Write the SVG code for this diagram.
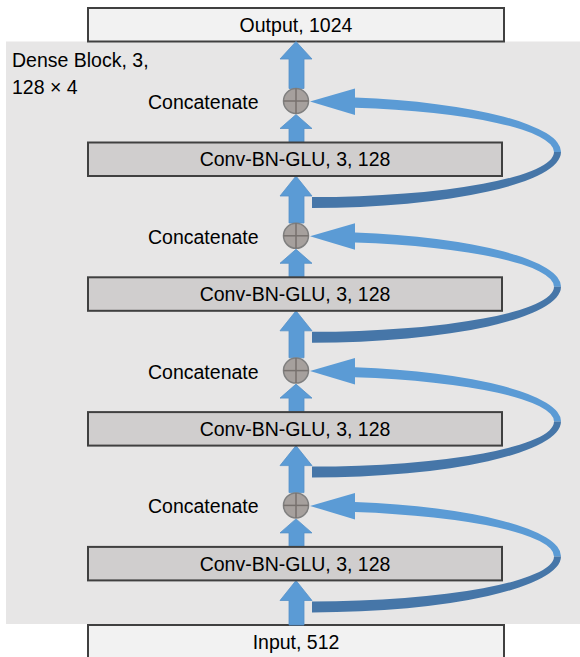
<svg xmlns="http://www.w3.org/2000/svg" width="580" height="657" viewBox="0 0 580 657">
<style>
.box{stroke:#404040;stroke-width:2}
.io{fill:#f2f2f2}
.conv{fill:#d0cece}
.t{font-family:"Liberation Sans",Arial,sans-serif;font-size:19.5px;fill:#000}
.c{text-anchor:middle}
.arr{fill:#5b9bd5;stroke:#5590c8;stroke-width:0.8}
.up{fill:#5b9bd5}
.low{fill:#4676a8}
.cat{fill:#a6a09d;stroke:#7f7f7f;stroke-width:1.5}
.cross{stroke:#77716e;stroke-width:1.5}
</style>
<defs>
<g id="catSym">
<circle class="cat" cx="0" cy="0" r="12.5"/>
<line class="cross" x1="-12.5" y1="0" x2="12.5" y2="0"/>
<line class="cross" x1="0" y1="-12.5" x2="0" y2="12.5"/>
</g>
<g id="loop">
<path class="up" d="M355,-3.4 A249,55 0 0 1 561,51 L554,51 A242,45 0 0 0 355,6.7 Z"/>
<path class="low" d="M561,51 A249,56 0 0 1 312,107 L312,96 A242,45 0 0 0 554,51 Z"/>
<polygon class="up" points="310,0.5 355,-12.5 355,14"/>
</g>
</defs>

<rect id="panel" x="6" y="41.5" width="574" height="582.5" fill="#e7e6e6"/>

<g id="output">
<rect class="box io" x="88" y="8" width="416" height="33.5"/>
<text class="t c" x="296" y="32">Output, 1024</text>
</g>
<g id="input">
<rect class="box io" x="88" y="625" width="416" height="40"/>
<text class="t c" x="296" y="648.5">Input, 512</text>
</g>

<g id="label">
<text class="t" x="12" y="67">Dense Block, 3,</text>
<text class="t" x="12" y="94">128 × 4</text>
</g>

<g id="connectors">
<polygon class="arr" points="296,41.5 312,59 304,59 304,88.5 289,88.5 289,59 280,59"/>
<polygon class="arr" points="296,114.5 312,128.5 304,128.5 304,142.5 289,142.5 289,128.5 280,128.5"/>
<polygon class="arr" points="296,176 312,196 304,196 304,223 289,223 289,196 280,196"/>
<polygon class="arr" points="296,249.3 312,263.3 304,263.3 304,277.3 289,277.3 289,263.3 280,263.3"/>
<polygon class="arr" points="296,310.8 312,330.8 304,330.8 304,357.8 289,357.8 289,330.8 280,330.8"/>
<polygon class="arr" points="296,384.1 312,398.1 304,398.1 304,412.1 289,412.1 289,398.1 280,398.1"/>
<polygon class="arr" points="296,445.6 312,465.6 304,465.6 304,492.6 289,492.6 289,465.6 280,465.6"/>
<polygon class="arr" points="296,518.9 312,532.9 304,532.9 304,546.9 289,546.9 289,532.9 280,532.9"/>
<polygon class="arr" points="296,580.5 312,600.5 304,600.5 304,625 289,625 289,600.5 280,600.5"/>
<use href="#loop" transform="translate(0,101)"/>
<use href="#loop" transform="translate(0,235.8)"/>
<use href="#loop" transform="translate(0,370.6)"/>
<use href="#loop" transform="translate(0,505.4)"/>
</g>

<g id="block1">
<rect class="box conv" x="88" y="142.5" width="414" height="33.5"/>
<text class="t c" x="295" y="166.3">Conv-BN-GLU, 3, 128</text>
</g>
<g id="block2">
<rect class="box conv" x="88" y="277.3" width="414" height="33.5"/>
<text class="t c" x="295" y="301.1">Conv-BN-GLU, 3, 128</text>
</g>
<g id="block3">
<rect class="box conv" x="88" y="412.1" width="414" height="33.5"/>
<text class="t c" x="295" y="435.9">Conv-BN-GLU, 3, 128</text>
</g>
<g id="block4">
<rect class="box conv" x="88" y="546.9" width="414" height="33.5"/>
<text class="t c" x="295" y="570.7">Conv-BN-GLU, 3, 128</text>
</g>

<g id="concat1">
<use href="#catSym" x="296" y="101"/>
<text class="t" x="148" y="109">Concatenate</text>
</g>
<g id="concat2">
<use href="#catSym" x="296" y="235.8"/>
<text class="t" x="148" y="243.8">Concatenate</text>
</g>
<g id="concat3">
<use href="#catSym" x="296" y="370.6"/>
<text class="t" x="148" y="378.6">Concatenate</text>
</g>
<g id="concat4">
<use href="#catSym" x="296" y="505.4"/>
<text class="t" x="148" y="513.4">Concatenate</text>
</g>
</svg>
